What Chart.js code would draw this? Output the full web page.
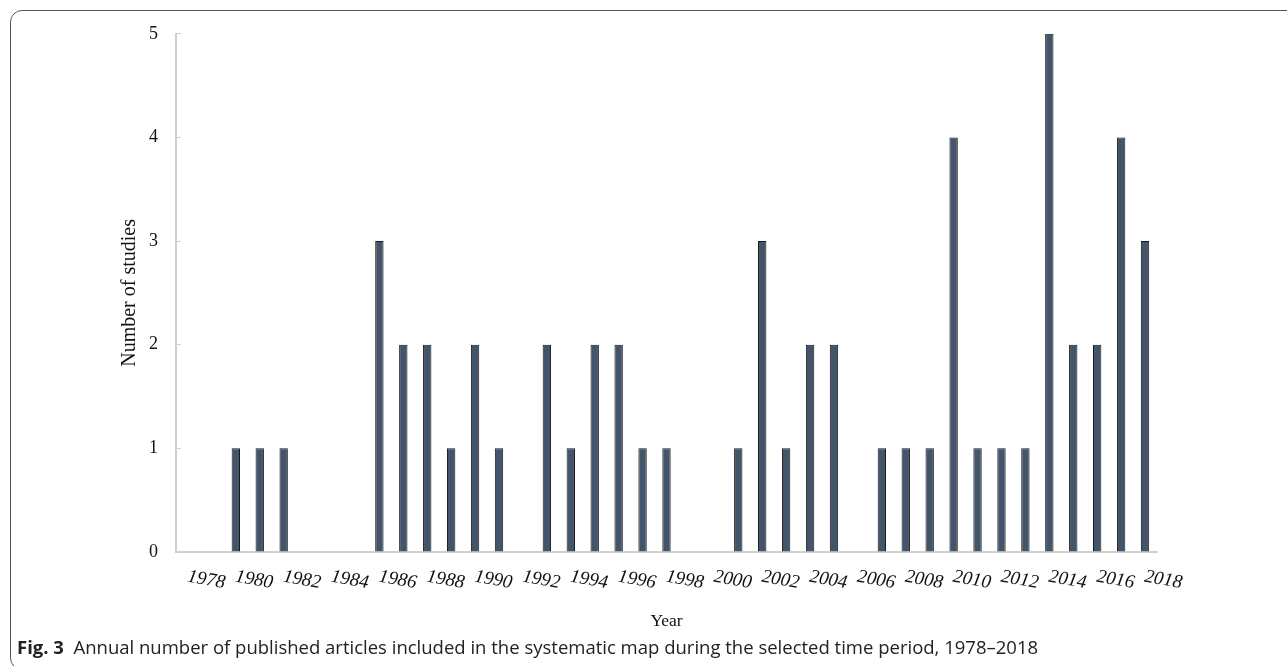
<!DOCTYPE html>
<html>
<head>
<meta charset="utf-8">
<script src="https://cdn.jsdelivr.net/npm/chart.js@4.4.0/dist/chart.umd.min.js"></script>
<style>
  html, body { margin: 0; padding: 0; background: #fff; width: 1287px; height: 666px; overflow: hidden; }
  #frame { position: absolute; left: 10px; top: 10px; width: 1300px; height: 660px; border: 1.5px solid #555; border-radius: 12px; box-sizing: border-box; }
  #wrap { position: absolute; left: 0; top: 0; width: 1287px; height: 666px; }
  #caption { position: absolute; left: 17px; top: 638px; font-family: "Open Sans", "Noto Sans", sans-serif; font-size: 18.5px; line-height: 18.5px; color: #222; white-space: nowrap; }
  #caption b { font-weight: 700; }
</style>
</head>
<body>
<div id="frame"></div>
<div id="wrap"><canvas id="c"></canvas></div>
<div id="caption"><b>Fig. 3</b>&nbsp; Annual number of published articles included in the systematic map during the selected time period, 1978–2018</div>
<script>
const years = ["1978","1979","1980","1981","1982","1983","1984","1985","1986","1987","1988","1989","1990","1991","1992","1993","1994","1995","1996","1997","1998","1999","2000","2001","2002","2003","2004","2005","2006","2007","2008","2009","2010","2011","2012","2013","2014","2015","2016","2017","2018"];
const studies = [0,0,1,1,1,0,0,0,3,2,2,1,2,1,0,2,1,2,2,1,1,0,0,1,3,1,2,2,0,1,1,1,4,1,1,1,5,2,2,4,3];
const yTicks = [0,1,2,3,4,5];

new Chart(document.getElementById('c'), {
  type: 'bar',
  data: {
    labels: years,
    datasets: [{
      data: studies,
      backgroundColor: '#44546a',
      borderColor: '#1a1a1a',
      borderWidth: 1,
      barPercentage: 0.35,
      categoryPercentage: 1.0
    }]
  },
  options: {
    responsive: true,
    maintainAspectRatio: false,
    animation: false,
    devicePixelRatio: 1,
    layout: { padding: { left: 118, right: 130, top: 33, bottom: 34 } },
    plugins: { legend: { display: false }, tooltip: { enabled: false } },
    scales: {
      x: {
        afterFit: function(s) { s.height = 80; },
        grid: { display: false, drawTicks: false },
        border: { display: true, color: '#d0d0d0', width: 2 },
        ticks: {
          autoSkip: false,
          minRotation: -10,
          maxRotation: -10,
          labelOffset: 37,
          padding: 20,
          color: '#111',
          font: { family: '"Liberation Serif", "Times New Roman", serif', size: 19, style: 'italic' },
          callback: function(v, i) { return i % 2 === 0 ? years[i] : ''; }
        },
        title: { display: true, text: 'Year', color: '#111', font: { family: '"Liberation Serif", serif', size: 17.5 }, padding: { top: 0, bottom: 0 } }
      },
      y: {
        min: 0, max: 5,
        afterFit: function(s) { s.width = 58; },
        afterBuildTicks: function(s) { s.ticks = yTicks.map(v => ({ value: v })); },
        grid: { display: true, drawOnChartArea: false, drawTicks: true, tickLength: -5, color: '#d0d0d0', lineWidth: 1 },
        border: { display: true, color: '#d0d0d0', width: 2 },
        ticks: { padding: 23, color: '#111', font: { family: '"Liberation Serif", "Times New Roman", serif', size: 18 } },
        title: { display: true, text: 'Number of studies', color: '#111', font: { family: '"Liberation Serif", serif', size: 20 }, padding: { top: 0, bottom: 0 } }
      }
    }
  }
});
</script>
</body>
</html>
